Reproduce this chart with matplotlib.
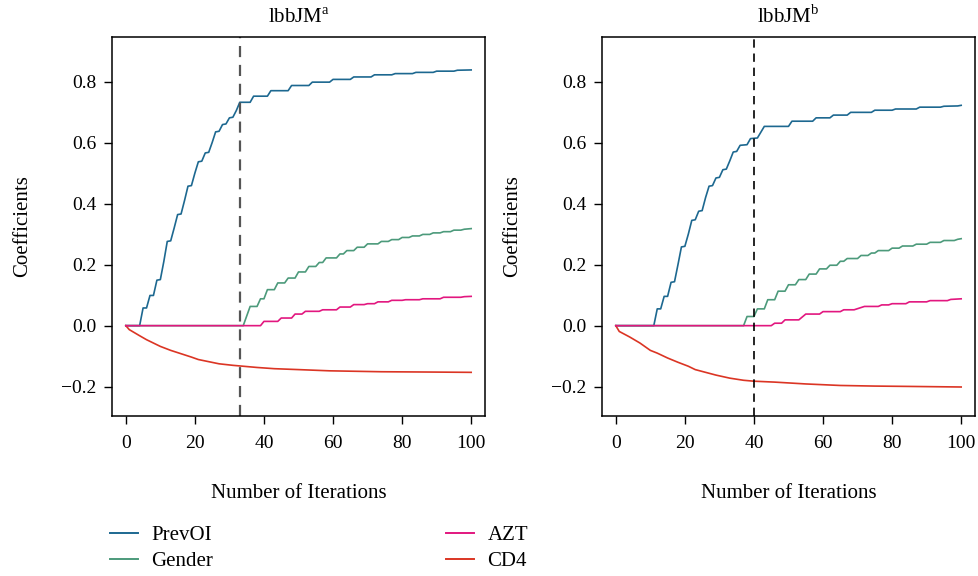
import matplotlib
matplotlib.use("Agg")
import matplotlib.pyplot as plt
from matplotlib.lines import Line2D

plt.rcParams['font.family'] = ['Liberation Serif', 'DejaVu Serif']
plt.rcParams['mathtext.fontset'] = 'custom'
plt.rcParams['mathtext.rm'] = 'Liberation Serif'
plt.rcParams['axes.unicode_minus'] = True

# Colours
C_PREV = '#1D6890'
C_GEN = '#4C9A7B'
C_AZT = '#E2177F'
C_CD4 = '#DB3524'

# ---- lbbJM^a (left panel) ----
prev_a_it = [0, 4, 5, 6, 7, 8, 9, 10, 11, 12, 13, 14, 15, 16, 17, 18, 19, 20, 21, 22, 23, 24, 25, 26,
             27, 28, 29, 30, 31, 32, 33, 36, 37, 41, 42, 47, 48, 53, 54, 59, 60, 65, 66, 71, 72, 77, 78,
             83, 84, 89, 90, 95, 96, 100]
prev_a = [0, 0, 0.058, 0.058, 0.099, 0.099, 0.149, 0.151, 0.21, 0.276, 0.278, 0.32, 0.364, 0.366, 0.41,
          0.457, 0.459, 0.50, 0.537, 0.539, 0.566, 0.568, 0.60, 0.635, 0.637, 0.659, 0.661, 0.681, 0.683,
          0.705, 0.732, 0.732, 0.752, 0.752, 0.770, 0.770, 0.787, 0.787, 0.798, 0.798, 0.807, 0.807,
          0.815, 0.815, 0.822, 0.822, 0.826, 0.826, 0.830, 0.830, 0.834, 0.834, 0.837, 0.838]

gen_a_it = [0, 34, 36, 38, 39, 40, 41, 43, 44, 46, 47, 49, 50, 52, 53, 55, 56, 57, 58, 61, 62, 63, 64,
            66, 67, 69, 70, 73, 74, 76, 77, 79, 80, 82, 83, 85, 86, 88, 89, 91, 92, 94, 95, 97, 98, 100]
gen_a = [0, 0, 0.063, 0.063, 0.088, 0.088, 0.118, 0.118, 0.140, 0.140, 0.156, 0.156, 0.176, 0.176,
         0.194, 0.194, 0.207, 0.207, 0.222, 0.222, 0.235, 0.235, 0.246, 0.246, 0.257, 0.257, 0.268,
         0.268, 0.276, 0.276, 0.282, 0.282, 0.289, 0.289, 0.294, 0.294, 0.299, 0.299, 0.304, 0.304,
         0.308, 0.308, 0.313, 0.313, 0.316, 0.318]

azt_a_it = [0, 39, 40, 44, 45, 48, 49, 51, 52, 56, 57, 61, 62, 65, 66, 69, 70, 72, 73, 76, 77, 80, 81,
            85, 86, 91, 92, 97, 98, 100]
azt_a = [0, 0, 0.014, 0.014, 0.025, 0.025, 0.038, 0.038, 0.047, 0.047, 0.052, 0.052, 0.061, 0.061,
         0.069, 0.069, 0.072, 0.072, 0.078, 0.078, 0.083, 0.083, 0.085, 0.085, 0.088, 0.088, 0.093,
         0.093, 0.095, 0.096]

cd4_a_it = [0, 1, 4, 6, 8, 10, 13, 16, 19, 21, 24, 27, 31, 33, 38, 43, 50, 59, 74, 88, 100]
cd4_a = [0, -0.013, -0.033, -0.046, -0.057, -0.068, -0.081, -0.092, -0.103, -0.111, -0.118, -0.125,
         -0.130, -0.132, -0.137, -0.141, -0.144, -0.148, -0.151, -0.152, -0.153]

# ---- lbbJM^b (right panel) ----
prev_b_it = [0, 11, 12, 13, 14, 15, 16, 17, 18, 19, 20, 21, 22, 23, 24, 25, 26, 27, 28, 29, 30, 31, 32,
             33, 34, 35, 36, 38, 39, 41, 43, 50, 51, 57, 58, 62, 63, 67, 68, 74, 75, 80, 81, 87, 88, 94,
             95, 99, 100]
prev_b = [0, 0, 0.055, 0.055, 0.096, 0.096, 0.142, 0.144, 0.20, 0.258, 0.260, 0.30, 0.345, 0.347, 0.375,
          0.377, 0.42, 0.457, 0.459, 0.484, 0.486, 0.511, 0.513, 0.54, 0.569, 0.571, 0.591, 0.593, 0.613,
          0.615, 0.653, 0.653, 0.670, 0.670, 0.681, 0.681, 0.690, 0.690, 0.699, 0.699, 0.706, 0.706,
          0.710, 0.710, 0.716, 0.716, 0.719, 0.720, 0.722]

gen_b_it = [0, 37, 38, 40, 41, 43, 44, 46, 47, 49, 50, 52, 53, 55, 56, 58, 59, 61, 62, 64, 65, 66, 67,
            70, 71, 73, 74, 75, 76, 79, 80, 82, 83, 86, 87, 90, 91, 94, 95, 98, 99, 100]
gen_b = [0, 0, 0.030, 0.030, 0.055, 0.055, 0.085, 0.085, 0.113, 0.113, 0.134, 0.134, 0.151, 0.151,
         0.169, 0.169, 0.186, 0.186, 0.198, 0.198, 0.211, 0.211, 0.220, 0.220, 0.230, 0.230, 0.238,
         0.238, 0.246, 0.246, 0.254, 0.254, 0.261, 0.261, 0.267, 0.267, 0.273, 0.273, 0.279, 0.279,
         0.283, 0.285]

azt_b_it = [0, 45, 46, 48, 49, 53, 55, 59, 60, 65, 66, 69, 72, 76, 77, 79, 80, 84, 85, 90, 91, 96, 97, 100]
azt_b = [0, 0, 0.008, 0.008, 0.019, 0.019, 0.038, 0.038, 0.046, 0.046, 0.052, 0.052, 0.063, 0.063,
         0.068, 0.068, 0.072, 0.072, 0.078, 0.078, 0.082, 0.082, 0.086, 0.088]

cd4_b_it = [0, 1, 4, 7, 10, 12, 15, 18, 21, 23, 26, 29, 33, 37, 40, 46, 55, 65, 75, 84, 100]
cd4_b = [0, -0.019, -0.037, -0.057, -0.081, -0.090, -0.106, -0.120, -0.133, -0.144, -0.153, -0.162,
         -0.172, -0.179, -0.182, -0.185, -0.191, -0.196, -0.198, -0.199, -0.201]

stop_a = 33
stop_b = 40

labels = ['PrevOI', 'Gender', 'AZT', 'CD4']
colors = [C_PREV, C_GEN, C_AZT, C_CD4]

fig = plt.figure(figsize=(9.79, 5.76), dpi=100)
ax1 = fig.add_axes([0.1144, 0.2778, 0.381, 0.658])
ax2 = fig.add_axes([0.6149, 0.2778, 0.381, 0.658])

panels = [
    (ax1, r'lbbJM$^{\mathrm{a}}$', stop_a, '#555555', 1.6,
     [(prev_a_it, prev_a), (gen_a_it, gen_a), (azt_a_it, azt_a), (cd4_a_it, cd4_a)]),
    (ax2, r'lbbJM$^{\mathrm{b}}$', stop_b, 'black', 1.2,
     [(prev_b_it, prev_b), (gen_b_it, gen_b), (azt_b_it, azt_b), (cd4_b_it, cd4_b)]),
]

for ax, title, stop, vcol, vlw, series in panels:
    # draw order: PrevOI, Gender, CD4, AZT on top of zero line
    for (xs, ys), c in zip([series[0], series[1], series[3], series[2]],
                           [C_PREV, C_GEN, C_CD4, C_AZT]):
        ax.plot(xs, ys, color=c, lw=1.2)
    ax.axvline(stop, color=vcol, lw=vlw, ls=(0, (5, 3.5)))
    ax.set_xlim(-4, 104)
    ax.set_ylim(-0.296, 0.946)
    ax.set_xticks([0, 20, 40, 60, 80, 100])
    ax.set_yticks([-0.2, 0.0, 0.2, 0.4, 0.6, 0.8])
    ax.set_yticklabels(['\u22120.2', '0.0', '0.2', '0.4', '0.6', '0.8'])
    ax.tick_params(axis='both', direction='out', length=6, width=1.0, labelsize=14, color='black')
    ax.tick_params(axis='x', pad=8)
    ax.tick_params(axis='y', pad=5)
    for s in ax.spines.values():
        s.set_linewidth(1.1)
    ax.set_title(title, fontsize=15, pad=10)
    ax.set_xlabel('Number of Iterations', fontsize=15, labelpad=23)
    ax.set_ylabel('Coefficients', fontsize=15, labelpad=21)

handles = [Line2D([], [], color=c, lw=1.4) for c in colors]
fig.legend(handles, labels, ncol=2, loc='upper left', bbox_to_anchor=(0.112, 0.088),
           frameon=False, fontsize=15, handlelength=1.35, handletextpad=0.63,
           columnspacing=11.2, labelspacing=0.33, borderaxespad=0, borderpad=0)

fig.savefig('out.png', dpi=100)
